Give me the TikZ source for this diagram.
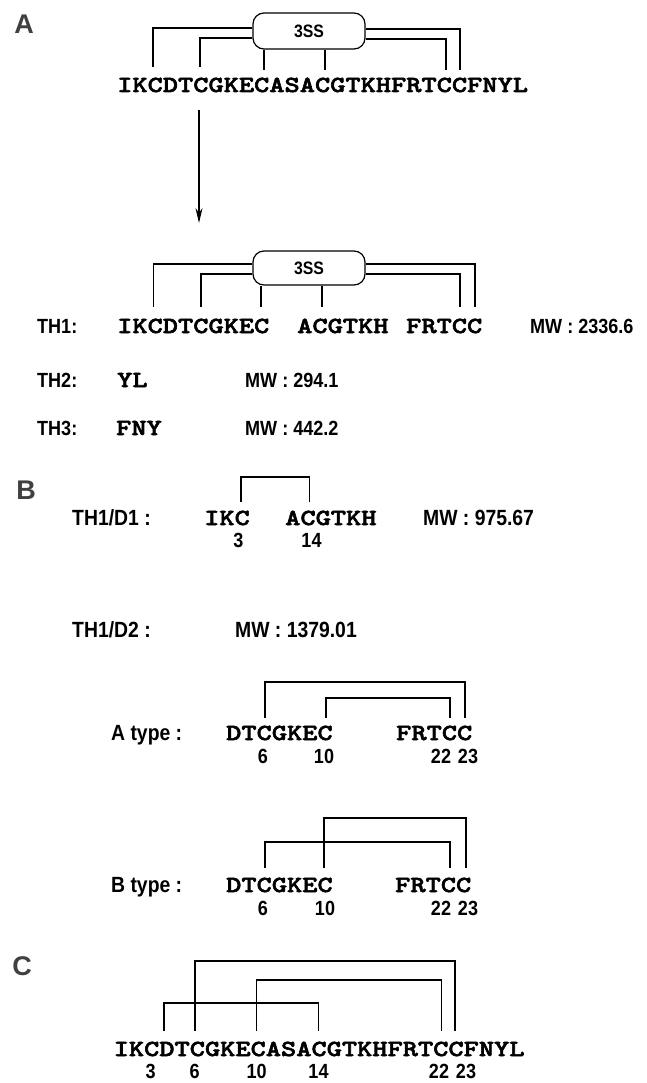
\documentclass[tikz,border=0pt]{standalone}
\usepackage{fontspec}
\setmainfont{Liberation Sans}
\newfontfamily\seqfont{lmmonolt10-bold.otf}[FakeStretch=1.26,FakeBold=2.5]
\newfontfamily\lblfont{Liberation Sans}[FakeStretch=0.88]
\usetikzlibrary{arrows.meta}
\tikzset{
  seq/.style={font=\seqfont\fontsize{23}{23}\selectfont, anchor=base west, inner sep=0pt},
  lbl/.style={font=\lblfont\bfseries\fontsize{20.5}{20.5}\selectfont, anchor=base west, inner sep=0pt},
  lblB/.style={font=\lblfont\bfseries\fontsize{22}{22}\selectfont, anchor=base west, inner sep=0pt},
  num/.style={font=\lblfont\bfseries\fontsize{20.5}{20.5}\selectfont, anchor=base, inner sep=0pt},
  panel/.style={font=\bfseries\fontsize{27}{27}\selectfont, inner sep=0pt, text=black!75},
  ssbox/.style={draw, fill=white, rounded corners=11pt, minimum width=112pt, minimum height=36pt,
                inner sep=0pt, font=\lblfont\bfseries\fontsize{18}{18}\selectfont, line width=1.2pt},
  bond/.style={line width=1.2pt},
}
\begin{document}
\begin{tikzpicture}[x=1pt,y=-1pt]
\useasboundingbox (0,0) rectangle (647,1083);

% ---------------- Panel A ----------------
\node[panel] (pA) at (24,24) {A};
\node[ssbox] (boxA) at (309,31) {3SS};
\node[seq] (seqA) at (117,92) {IKCDTCGKECASACGTKHFRTCCFNYL};
\coordinate (a3) at (153,67);
\coordinate (a6) at (200,67);
\coordinate (a10) at (264,70);
\coordinate (a14) at (325,70);
\coordinate (a22) at (446,70);
\coordinate (a23) at (460,70);
\draw[bond] (a3) |- ([yshift=3pt]boxA.west);
\draw[bond] (a6) |- ([yshift=-7pt]boxA.west);
\draw[bond] (a10) -- (a10 |- boxA.south);
\draw[bond] (a14) -- (a14 |- boxA.south);
\draw[bond] (a23) |- ([yshift=2pt]boxA.east);
\draw[bond] (a22) |- ([yshift=-8pt]boxA.east);

\coordinate (arrS) at (199,110);
\coordinate (arrE) at (199,223);
\draw[bond, -{Stealth[length=15pt,width=7pt]}] (arrS) -- (arrE);

\node[ssbox, minimum height=34pt] (boxB) at (309,268) {3SS};
\coordinate (b3) at (153.5,307);
\coordinate (b6) at (201,307);
\coordinate (b10) at (261,307);
\coordinate (b14) at (322,307);
\coordinate (b22) at (460,307);
\coordinate (b23) at (475,307);
\draw[bond] (b3) |- ([yshift=4pt]boxB.west);
\draw[bond] (b6) |- ([yshift=-6pt]boxB.west);
\draw[bond] (b10) -- (b10 |- boxB.south);
\draw[bond] (b14) -- (b14 |- boxB.south);
\draw[bond] (b23) |- ([yshift=4pt]boxB.east);
\draw[bond] (b22) |- ([yshift=-6pt]boxB.east);

\node[lbl] (th1) at (37,333) {TH1:};
\node[seq] (th1a) at (117,333) {IKCDTCGKEC};
\node[seq] (th1b) at (297,333) {ACGTKH};
\node[seq] (th1c) at (406,333) {FRTCC};
\node[lbl] (mw1) at (530,333) {MW : 2336.6};

\node[lbl] (th2) at (37,387) {TH2:};
\node[seq] (th2a) at (117,387) {YL};
\node[lbl] (mw2) at (245,387) {MW : 294.1};

\node[lbl] (th3) at (37,435) {TH3:};
\node[seq] (th3a) at (116,435) {FNY};
\node[lbl] (mw3) at (245,435) {MW : 442.2};

% ---------------- Panel B ----------------
\node[panel] (pB) at (26,490) {B};
\node[lblB] (d1) at (72,525) {TH1/D1 :};
\node[seq] (d1a) at (204,525) {IKC};
\node[seq] (d1b) at (285,525) {ACGTKH};
\node[lblB] (d1mw) at (423,525) {MW : 975.67};
\coordinate (d1c3) at (241,502);
\coordinate (d1c14) at (309.5,502);
\draw[bond] (d1c3) -- ++(0,-25) -| (d1c14);
\node[num] (d1n3) at (238.5,547) {3};
\node[num] (d1n14) at (311.5,547) {14};

\node[lblB] (d2) at (72,637) {TH1/D2 :};
\node[lblB] (d2mw) at (235,637) {MW : 1379.01};

% A type
\node[lblB] (ta) at (111,740) {A type :};
\node[seq] (taa) at (226,740) {DTCGKEC};
\node[seq] (tab) at (396,740) {FRTCC};
\coordinate (ta6) at (265,718);
\coordinate (ta10) at (326,718);
\coordinate (ta22) at (450,718);
\coordinate (ta23) at (465,718);
\draw[bond] (ta6) -- ++(0,-36) -| (ta23);
\draw[bond] (ta10) -- ++(0,-20) -| (ta22);
\node[num] (tan6) at (263,763) {6};
\node[num] (tan10) at (324,763) {10};
\node[num] (tan22) at (441,763) {22};
\node[num] (tan23) at (468,763) {23};

% B type
\node[lblB] (tb) at (111,892) {B type :};
\node[seq] (tba) at (226,892) {DTCGKEC};
\node[seq] (tbb) at (395,892) {FRTCC};
\coordinate (tb6) at (265,868);
\coordinate (tb10) at (324,868);
\coordinate (tb22) at (450,868);
\coordinate (tb23) at (466,868);
\draw[bond] (tb10) -- ++(0,-50) -| (tb23);
\draw[bond] (tb6) -- ++(0,-26) -| (tb22);
\node[num] (tbn6) at (263,915) {6};
\node[num] (tbn10) at (325,915) {10};
\node[num] (tbn22) at (441,915) {22};
\node[num] (tbn23) at (468,915) {23};

% ---------------- Panel C ----------------
\node[panel] (pC) at (22,966) {C};
\node[seq] (seqC) at (113.5,1056) {IKCDTCGKECASACGTKHFRTCCFNYL};
\coordinate (k3) at (164,1031);
\coordinate (k6) at (195,1031);
\coordinate (k10) at (256.6,1031);
\coordinate (k14) at (318.5,1031);
\coordinate (k22) at (441.5,1031);
\coordinate (k23) at (455,1031);
\draw[bond] (k6) -- ++(0,-70) -| (k23);
\draw[bond] (k10) -- ++(0,-51) -| (k22);
\draw[bond] (k3) -- ++(0,-28) -| (k14);
\node[num] (kn3) at (150.6,1078) {3};
\node[num] (kn6) at (194.7,1078) {6};
\node[num] (kn10) at (256.6,1078) {10};
\node[num] (kn14) at (318.5,1078) {14};
\node[num] (kn22) at (439,1078) {22};
\node[num] (kn23) at (466,1078) {23};
\end{tikzpicture}
\end{document}
